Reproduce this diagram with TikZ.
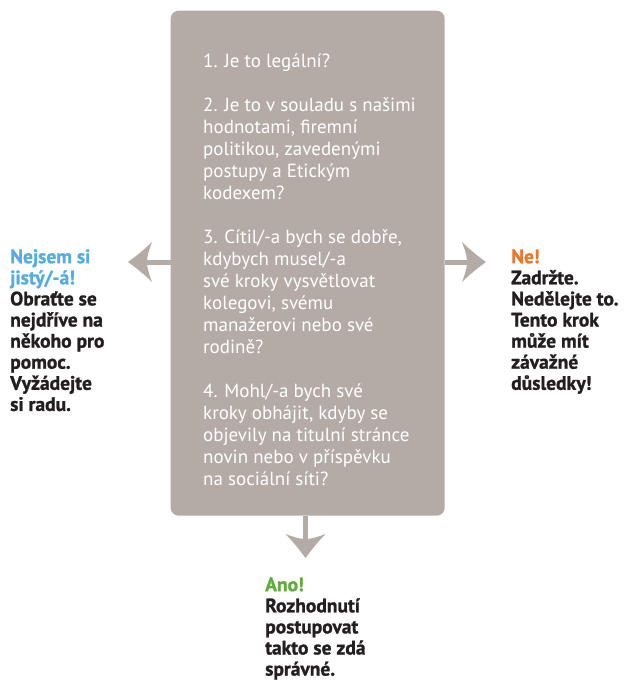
\documentclass[tikz,border=0pt]{standalone}
\usepackage{fontspec}
\setmainfont{PT Sans}
\newfontfamily\heavyfont[FakeBold=1.2]{PT Sans Bold}
\definecolor{boxc}{HTML}{B5ABA6}
\definecolor{bluec}{HTML}{55ACE2}
\definecolor{orangec}{HTML}{E8782C}
\definecolor{greenc}{HTML}{5EAC3A}
\definecolor{darkc}{HTML}{231F20}
\tikzset{
  qbox/.style={fill=boxc, rounded corners=8pt, inner sep=0pt, anchor=north west},
  qtext/.style={text=white, align=left, inner sep=0pt, anchor=north west,
    font=\fontsize{19}{22}\selectfont},
  outtext/.style={text=darkc, align=left, inner sep=0pt, anchor=north west,
    font=\heavyfont\fontsize{19.5}{21.1}\selectfont},
  shaft/.style={draw=boxc, line width=5pt},
  ahead/.pic={\fill[boxc] (0,0) .. controls (-7,-5) and (-17,-13) .. (-24,-20)
     .. controls (-21,-12) and (-19,-6) .. (-19,0)
     .. controls (-19,6) and (-21,12) .. (-24,20)
     .. controls (-17,13) and (-7,5) .. (0,0) -- cycle;}
}
\begin{document}
\begin{tikzpicture}[x=1pt,y=-1pt]
\useasboundingbox (0,0) rectangle (634,682);
\node[qbox, minimum width=274pt, minimum height=505pt] (box) at (170.5,10.5) {};
\node[qtext] (questions) at (203,47) {\rule{0pt}{20pt}1. Je to legální?\\[22pt]
2. Je to v souladu s našimi\\
hodnotami, firemní\\
politikou, zavedenými\\
postupy a Etickým\\
kodexem?\\[22pt]
3. Cítil/-a bych se dobře,\\
kdybych musel/-a\\
své kroky vysvětlovat\\
kolegovi, svému\\
manažerovi nebo své\\
rodině?\\[22pt]
4. Mohl/-a bych své\\
kroky obhájit, kdyby se\\
objevily na titulní stránce\\
novin nebo v příspěvku\\
na sociální síti?};
% arrows
\coordinate (ltip) at (128,262);
\coordinate (lbase) at (146,262);
\coordinate (rtip) at (486,262);
\coordinate (rbase) at (468,262);
\coordinate (dtip) at (305.5,558);
\coordinate (dbase) at (305.5,540);
\draw[shaft] (box.west |- lbase) -- (lbase);
\draw[shaft] (box.east |- rbase) -- (rbase);
\draw[shaft] (box.south -| dbase) -- (dbase);
\pic[rotate=180] at (ltip) {ahead};
\pic at (rtip) {ahead};
\pic[rotate=-90] at (dtip) {ahead};
% outcomes
\node[outtext] (unsure) at (10,243) {\rule{0pt}{20pt}\textcolor{bluec}{Nejsem si}\\
\textcolor{bluec}{jistý/-á!}\\
Obraťte se\\
nejdříve na\\
někoho pro\\
pomoc.\\
Vyžádejte\\
si radu.};
\node[outtext] (no) at (511,243) {\rule{0pt}{20pt}\textcolor{orangec}{Ne!}\\
Zadržte.\\
Nedělejte to.\\
Tento krok\\
může mít\\
závažné\\
důsledky!};
\node[outtext] (yes) at (265,571) {\rule{0pt}{20pt}\textcolor{greenc}{Ano!}\\
Rozhodnutí\\
postupovat\\
takto se zdá\\
správné.};
\end{tikzpicture}
\end{document}
